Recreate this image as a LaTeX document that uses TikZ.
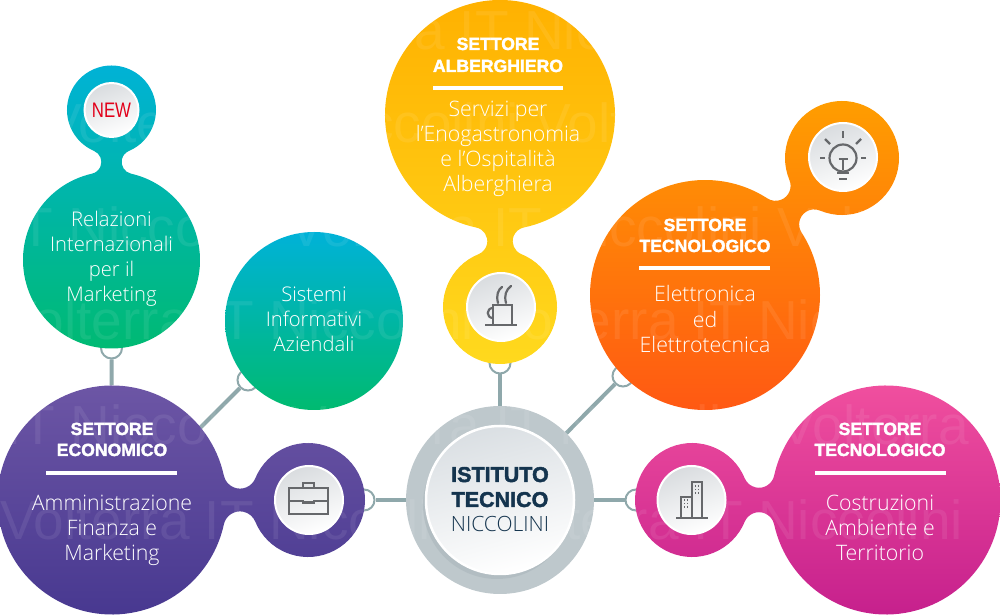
\documentclass[tikz,border=0pt]{standalone}
\usepackage{fontspec}
\setmainfont{Liberation Sans}
\newfontfamily\lightf{Open Sans Light}
\newfontfamily\heavyf[FakeBold=2]{Liberation Sans Bold}
\definecolor{wire}{HTML}{8FA8AB}
\definecolor{iconc}{HTML}{66686B}
\definecolor{navy}{HTML}{14344E}
\definecolor{ringgrey}{HTML}{BEC8CC}
\definecolor{ringshade}{HTML}{AEB9BE}
\definecolor{discgrey}{HTML}{D9DCDF}
\definecolor{hubgrey}{HTML}{DADFE3}
\definecolor{cyanA}{HTML}{00B2D8}
\definecolor{greenA}{HTML}{00BA70}
\definecolor{purpA}{HTML}{6E57A6}
\definecolor{purpB}{HTML}{46378F}
\definecolor{yelA}{HTML}{FFB000}
\definecolor{yelB}{HTML}{FFDA1E}
\definecolor{oraA}{HTML}{FF9F00}
\definecolor{oraB}{HTML}{FF5514}
\definecolor{pinkA}{HTML}{F2519F}
\definecolor{pinkB}{HTML}{C41E8C}
\definecolor{newred}{HTML}{E2001A}
\newcommand\blob[8]{%
 \pgfmathsetmacro\dd{veclen(#5-#2,#6-#3)}%
 \pgfmathsetmacro\th{atan2(#6-#3,#5-#2)}%
 \pgfmathsetmacro\aa{(\dd+(#4-#7)*(#4+#7+2*#8)/\dd)/2}%
 \pgfmathsetmacro\RR{#4+#8}%
 \pgfmathsetmacro\hh{sqrt((\RR-\aa)*(\RR+\aa))}%
 \pgfmathsetmacro\al{atan2(\hh,\aa)}%
 \pgfmathsetmacro\be{atan2(\hh,\dd-\aa)}%
 \path[shade,#1] ({#2+#4*cos(\th+\al)},{#3+#4*sin(\th+\al)})
  arc[start angle=\th+\al,end angle=\th+360-\al,radius=#4]
  arc[start angle=\th+180-\al,end angle=\th+\be,radius=#8]
  arc[start angle=\th+180+\be,end angle=\th+540-\be,radius=#7]
  arc[start angle=\th-\be,end angle=\th+\al-180,radius=#8] -- cycle;}
\tikzset{
 ringnode/.style={circle,draw=wire,line width=2pt,fill=white,minimum size=21pt,inner sep=0pt},
 anchorcircle/.style={circle,minimum size=#1,inner sep=0pt},
 wirelink/.style={draw=wire,line width=4pt},
 icondisc/.style={circle,draw=white,line width=2pt,minimum size=#1,inner sep=0pt,top color=discgrey,bottom color=white,shading angle=20},
 icon/.style={draw=iconc,line width=2.2pt},
 headtext/.style={text=white,font=\heavyf\fontsize{17.6}{21.5}\selectfont,align=center,inner sep=0pt,anchor=base},
 bodytext/.style={text=white,font=\lightf\fontsize{21.3}{25}\selectfont,align=center,inner sep=0pt,anchor=base},
 bodysmall/.style={text=white,font=\lightf\fontsize{20.2}{25}\selectfont,align=center,inner sep=0pt,anchor=base},
 rulebar/.style={draw=white,line width=4.5pt},
 wmark/.style={text=white,text opacity=.08,font=\fontsize{55}{60}\selectfont,inner sep=0pt,anchor=base west},
}
\begin{document}
\begin{tikzpicture}[x=1pt,y=1pt]
\useasboundingbox (0,0) rectangle (1000,615);
% rings
\node[ringnode] (ringRel) at (111.5,267) {};
\node[ringnode] (ringSis) at (248,235) {};
\node[ringnode] (ringCup) at (500,252) {};
\node[ringnode] (ringOra) at (623,239) {};
\node[ringnode] (ringBri) at (364,115) {};
\node[ringnode] (ringBld) at (636,115) {};
% hub ring
\node[anchorcircle=188pt,fill=ringgrey] (hub) at (500,115) {};
\node[anchorcircle=229pt] (econ) at (112,115) {};
\coordinate (econJoin) at (128,115);
\draw[wirelink] (ringRel) -- (econ);
\draw[wirelink] (ringSis) -- (econJoin);
\draw[wirelink] (ringCup) -- (hub);
\draw[wirelink] (ringOra) -- (hub);
\draw[wirelink] (ringBri) -- (hub);
\draw[wirelink] (ringBld) -- (hub);
% blobs
\blob{top color=cyanA,bottom color=greenA}{111.5}{355}{88.5}{111.5}{505}{44.5}{12}
\path[shade,top color=cyanA,bottom color=greenA] (314,294) circle[radius=89];
\blob{top color=purpA,bottom color=purpB}{112}{115}{114.5}{308}{115}{57}{16.5}
\blob{top color=yelA,bottom color=yelB}{500}{500}{115}{500}{308}{57}{14}
\blob{top color=oraA,bottom color=oraB}{705}{320}{115}{842}{457}{57}{15}
\blob{top color=pinkA,bottom color=pinkB}{886}{115}{114.5}{692}{115}{57}{15.5}
% watermark
\node[wmark] (wm1) at (255,565) {Volterra IT Niccolini Volterra};
\node[wmark] (wm2) at (45,472) {Volterra IT Niccolini Volterra IT};
\node[wmark] (wm3) at (4,368) {IT Niccolini Volterra IT Niccolini Volterra};
\node[wmark] (wm4) at (0,275) {Volterra IT Niccolini Volterra IT Niccolini};
\node[wmark] (wm5) at (6,170) {IT Niccolini Volterra IT Niccolini Volterra};
\node[wmark] (wm6) at (0,75) {Volterra IT Niccolini Volterra IT Niccolini};
% hub disc
\path[fill=ringshade,opacity=.7] (497,110) circle[radius=74];
\node[anchorcircle=148pt,draw=white,line width=2.5pt,top color=hubgrey,bottom color=white,shading angle=15] (hubdisc) at (500,115) {};
\node[text=navy,font=\heavyf\fontsize{21.5}{25}\selectfont,inner sep=0pt,anchor=base] (hubA) at (500,133) {ISTITUTO};
\node[text=navy,font=\heavyf\fontsize{21.5}{25}\selectfont,inner sep=0pt,anchor=base] (hubB) at (500,108) {TECNICO};
\node[text=navy,font=\lightf\fontsize{21}{25}\selectfont,inner sep=0pt,anchor=base] (hubC) at (500,83) {NICCOLINI};
% icon discs
\node[icondisc=54pt] (newdisc) at (111.5,505) {};
\node[text=newred,font=\fontsize{21}{21}\selectfont,inner sep=0pt,anchor=base] (newlbl) at (111.5,497) {\scalebox{.8}[1]{NEW}};
\node[icondisc=68pt] (cupdisc) at (501,308) {};
\node[icondisc=68pt] (bulbdisc) at (843,458) {};
\node[icondisc=68pt] (bridisc) at (309,115) {};
\node[icondisc=68pt] (blddisc) at (691.5,115) {};
% cup icon
\begin{scope}[shift={(501,308)}]
 \draw[icon] (-16,-18) -- (16,-18);
 \draw[icon] (-8,-18) -- (-8,2) -- (11,2) -- (11,-18);
 \draw[icon] (-8,-1) .. controls (-15,-1) and (-15,-11) .. (-8,-11);
 \draw[icon,line cap=round] (-3,4) .. controls (-5,12) and (-3,17) .. (1,20);
 \draw[icon,line cap=round] (5,4) .. controls (3,12) and (5,17) .. (10,21);
\end{scope}
% bulb icon
\begin{scope}[shift={(843,458)}]
 \draw[icon] (0,-1) circle[radius=13.5];
 \draw[icon] (0,26) -- (0,19);
 \draw[icon] (-18,18) -- (-13,13);
 \draw[icon] (18,18) -- (13,13);
 \draw[icon] (-23,-1) -- (-18,-1);
 \draw[icon] (23,-1) -- (18,-1);
 \draw[icon] (-4.5,-2) -- (4.5,-2);
 \draw[icon] (0,-2) -- (0,-13);
 \draw[icon] (-6,-16) -- (6,-16);
 \draw[icon] (-4,-22) -- (4,-22);
\end{scope}
% briefcase icon
\begin{scope}[shift={(309,115)}]
 \draw[icon] (-20,12) rectangle (19,-14);
 \draw[icon] (-6,12) -- (-6,17) -- (5,17) -- (5,12);
 \draw[icon] (-20,-1) -- (-6,-1) -- (-6,-2.5) -- (5,-2.5) -- (5,-1) -- (19,-1);
\end{scope}
% buildings icon
\begin{scope}[shift={(691.5,115)}]
 \draw[icon] (-15.5,-18) -- (16.5,-18);
 \draw[icon] (0.5,-18) -- (0.5,18) -- (10.5,18) -- (10.5,-18);
 \draw[icon] (-10.5,-18) -- (-10.5,3) -- (0.5,3);
 \foreach \px in {4,7}{\foreach \py in {14,10.5,7}{\fill[iconc] (\px-.9,\py-.9) rectangle (\px+.9,\py+.9);}}
 \foreach \px in {-7,-4}{\foreach \py in {0,-3.5,-7}{\fill[iconc] (\px-.9,\py-.9) rectangle (\px+.9,\py+.9);}}
\end{scope}
% labels
\node[bodysmall] (relA) at (111.5,388) {Relazioni};
\node[bodysmall] (relB) at (111.5,363) {Internazionali};
\node[bodysmall] (relC) at (111.5,338) {per il};
\node[bodysmall] (relD) at (111.5,313) {Marketing};
\node[bodysmall] (sisA) at (314,313) {Sistemi};
\node[bodysmall] (sisB) at (314,288) {Informativi};
\node[bodysmall] (sisC) at (314,263) {Aziendali};
% economico
\node[headtext] (ecoA) at (112,180) {SETTORE};
\node[headtext] (ecoB) at (112,159) {ECONOMICO};
\coordinate (ecoL) at (46,142); \coordinate (ecoR) at (177,142);
\draw[rulebar] (ecoL) -- (ecoR);
\node[bodytext] (ecoC) at (112,104) {Amministrazione};
\node[bodytext] (ecoD) at (112,79) {Finanza e};
\node[bodytext] (ecoE) at (112,54) {Marketing};
% costruzioni
\node[headtext] (cosA) at (880,180) {SETTORE};
\node[headtext] (cosB) at (880,159) {TECNOLOGICO};
\coordinate (cosL) at (815,142); \coordinate (cosR) at (946,142);
\draw[rulebar] (cosL) -- (cosR);
\node[bodytext] (cosC) at (880,104) {Costruzioni};
\node[bodytext] (cosD) at (880,79) {Ambiente e};
\node[bodytext] (cosE) at (880,54) {Territorio};
% alberghiero
\node[headtext] (albA) at (498,565) {SETTORE};
\node[headtext] (albB) at (498,543) {ALBERGHIERO};
\coordinate (albL) at (433,527); \coordinate (albR) at (563,527);
\draw[rulebar] (albL) -- (albR);
\node[bodytext] (albC) at (498,498) {Servizi per};
\node[bodytext] (albD) at (498,473) {l’Enogastronomia};
\node[bodytext] (albE) at (498,448) {e l’Ospitalità};
\node[bodytext] (albF) at (498,423) {Alberghiera};
% elettronica
\node[headtext] (oraC) at (705,384) {SETTORE};
\node[headtext] (oraD) at (705,363) {TECNOLOGICO};
\coordinate (oraL) at (639,347); \coordinate (oraR) at (770,347);
\draw[rulebar] (oraL) -- (oraR);
\node[bodytext] (oraE) at (705,313) {Elettronica};
\node[bodytext] (oraF) at (705,287) {ed};
\node[bodytext] (oraG) at (705,262) {Elettrotecnica};
\end{tikzpicture}
\end{document}
